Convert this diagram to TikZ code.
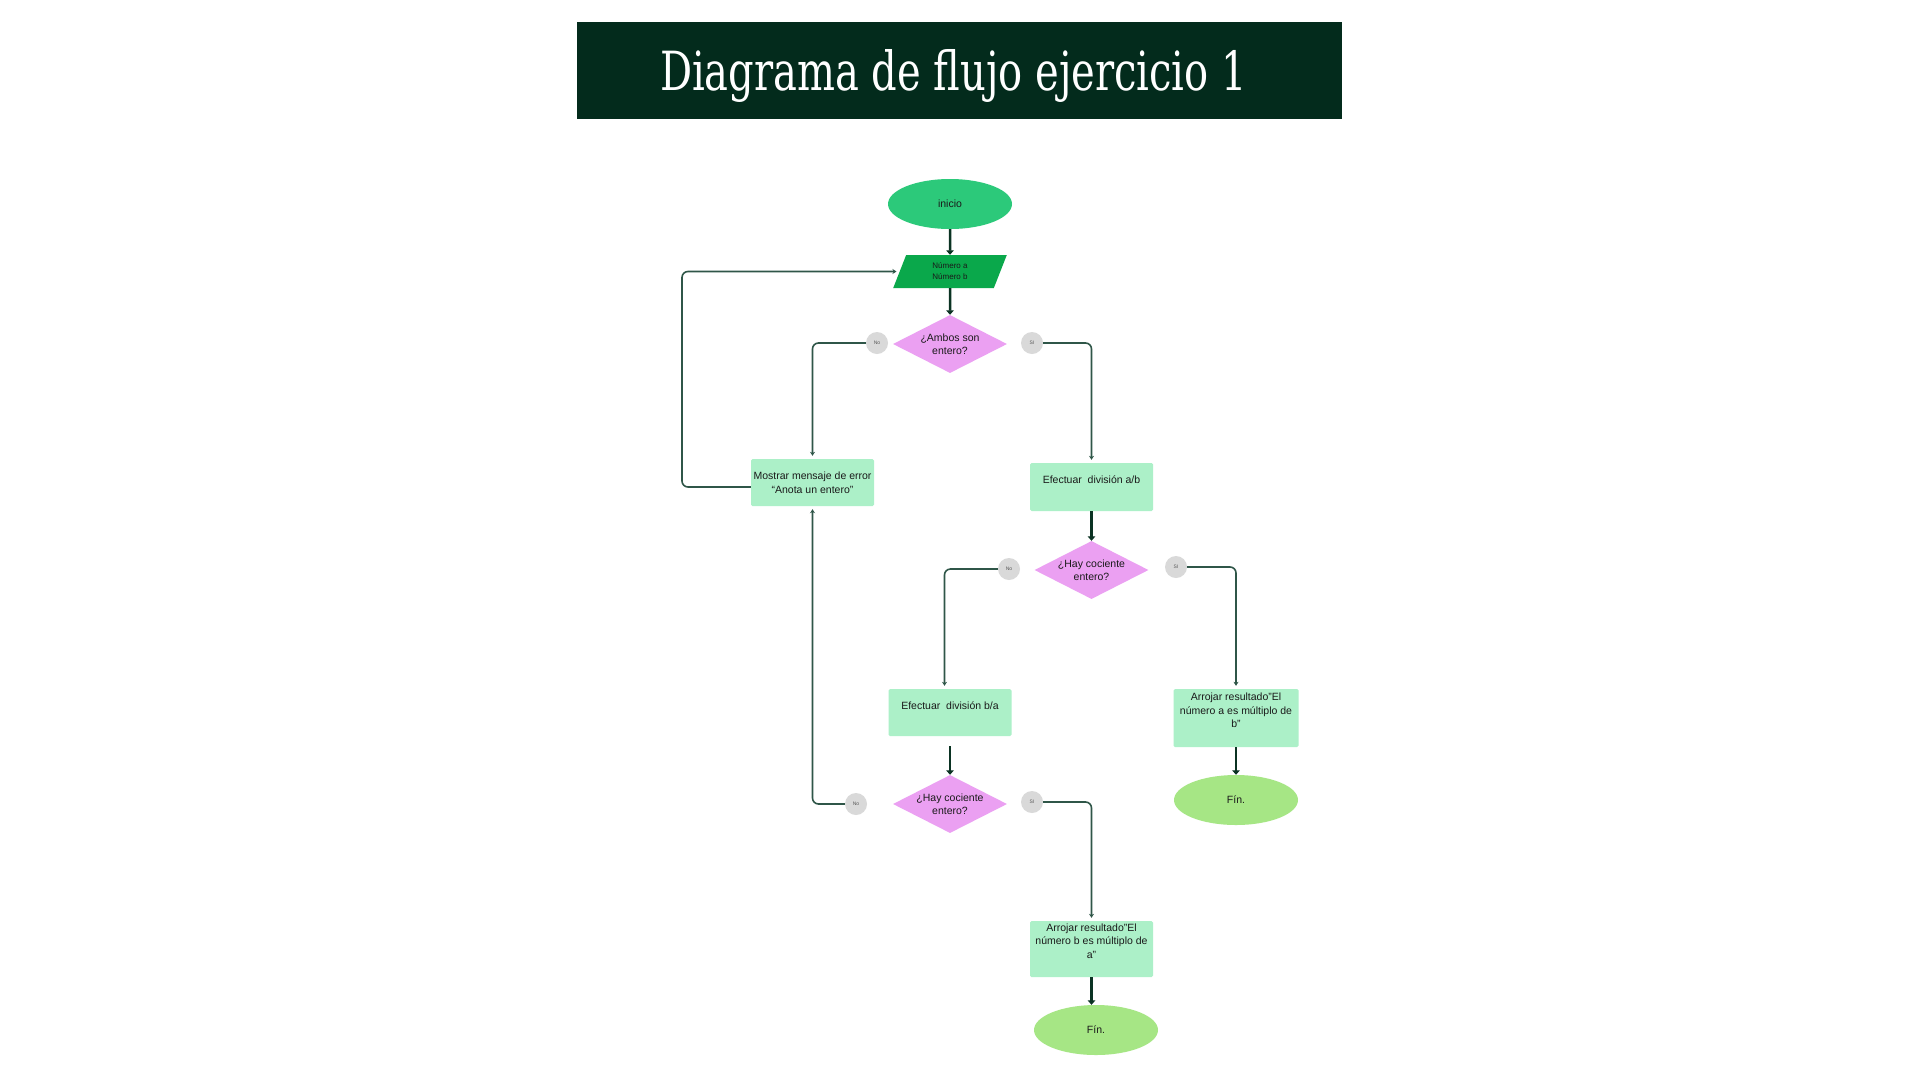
\documentclass[tikz,border=0pt]{standalone}
\usepackage{fontspec}
\setmainfont{Liberation Sans}
\newfontfamily\titlefont{DejaVu Serif Condensed}
\usetikzlibrary{shapes.geometric,arrows.meta}

\definecolor{titlebg}{HTML}{032B1C}
\definecolor{startc}{HTML}{2CC97A}
\definecolor{parac}{HTML}{0AA84B}
\definecolor{decc}{HTML}{EBA0F2}
\definecolor{procc}{HTML}{ACF0C8}
\definecolor{endc}{HTML}{A6E685}
\definecolor{tagc}{HTML}{D9D9D9}
\definecolor{thickc}{HTML}{0B3323}
\definecolor{thinc}{HTML}{2F5648}
\definecolor{txtc}{HTML}{1A1A1A}

\begin{document}
\begin{tikzpicture}[x=1pt,y=-1pt,
  every node/.style={font=\fontsize{10.5}{13.5}\selectfont, text=txtc},
  terminal/.style={ellipse, fill=#1, minimum width=124pt, minimum height=50pt, inner sep=0pt},
  iobox/.style={trapezium, trapezium left angle=73, trapezium right angle=107, trapezium stretches=true, fill=parac, minimum width=114pt, minimum height=33pt, inner sep=0pt, font=\fontsize{8}{11}\selectfont, align=center},
  decision/.style={diamond, aspect=2, fill=decc, minimum width=114pt, minimum height=58pt, inner sep=-3pt, align=center},
  procbox/.style={rectangle, rounded corners=1.5pt, fill=procc, minimum width=123pt, inner sep=0pt, align=center},
  tag/.style={circle, fill=tagc, minimum size=22pt, inner sep=0pt, font=\fontsize{5}{5}\selectfont, text=black!65},
  bigarrow/.style={draw=thickc, line width=2.5pt, -{Triangle[width=7.5pt,length=4.5pt]}},
  linkarrow/.style={draw=thinc, line width=1.6pt, rounded corners=6pt, shorten >=3pt, -{Stealth[width=5pt,length=4pt]}},
]
\useasboundingbox (0,0) rectangle (1920,1080);
\fill[white] (0,0) rectangle (1920,1080);

\node[fill=titlebg, minimum width=765pt, minimum height=97pt, inner sep=0pt, text=white, text height=40pt, text depth=0pt] (title) at (959.5,70.5) {\kern-12pt\resizebox{587pt}{41pt}{\titlefont Diagrama de flujo ejercicio 1}};

\node[terminal=startc] (inicio) at (950,204) {inicio};
\node[iobox] (para) at (950,271.5) {Número a\\Número b};
\node[decision] (d1) at (950,344) {¿Ambos son\\entero?};
\node[tag] (no1) at (877,343) {No};
\node[tag] (si1) at (1032,343) {SI};
\node[procbox, minimum height=47pt] (err) at (812.5,482.5) {Mostrar mensaje de error\\“Anota un entero"};
\node[procbox, minimum height=48pt, text depth=14pt] (ab) at (1091.5,487) {Efectuar\ \ división a/b};
\node[decision] (d2) at (1091.5,570) {¿Hay cociente\\entero?};
\node[tag] (no2) at (1009,569) {No};
\node[tag] (si2) at (1176,567) {SI};
\node[procbox, minimum height=47pt, text depth=14pt] (ba) at (950,712.5) {Efectuar\ \ división b/a};
\node[procbox, minimum width=125pt, minimum height=58pt, text depth=15pt] (ra) at (1236,718) {Arrojar resultado"El\\número a es múltiplo de\\b"};
\node[terminal=endc] (fin1) at (1236,800) {Fín.};
\node[decision] (d3) at (950,804) {¿Hay cociente\\entero?};
\node[tag] (no3) at (856,804) {No};
\node[tag] (si3) at (1032,802) {SI};
\node[procbox, minimum height=56pt, text depth=16pt] (rb) at (1091.5,949) {Arrojar resultado"El\\número b es múltiplo de\\a"};
\node[terminal=endc] (fin2) at (1096,1030) {Fín.};

\draw[bigarrow] (inicio.south) -- (para.north);
\draw[bigarrow] (para.south) -- (d1.north);
\draw[bigarrow] (ab.south) -- (d2.north);
\draw[bigarrow, shorten <=10pt] (ba.south) -- (d3.north);
\draw[bigarrow] (ra.south) -- (fin1.north);
\draw[bigarrow] (rb.south) -- (rb.south |- fin2.north);

\draw[linkarrow] (no1.west) -| (err.north);
\draw[linkarrow] (si1.east) -| (ab.north);
\draw[linkarrow] (no2.west) -| ([xshift=-5.5pt]ba.north);
\draw[linkarrow] (si2.east) -| (ra.north);
\draw[linkarrow] (no3.west) -| (err.south);
\draw[linkarrow] (si3.east) -| (rb.north);
\coordinate (loopc) at (682,271.5);
\draw[linkarrow] ([yshift=-4.5pt]err.west) -| (loopc) -- (para.west);
\end{tikzpicture}
\end{document}
